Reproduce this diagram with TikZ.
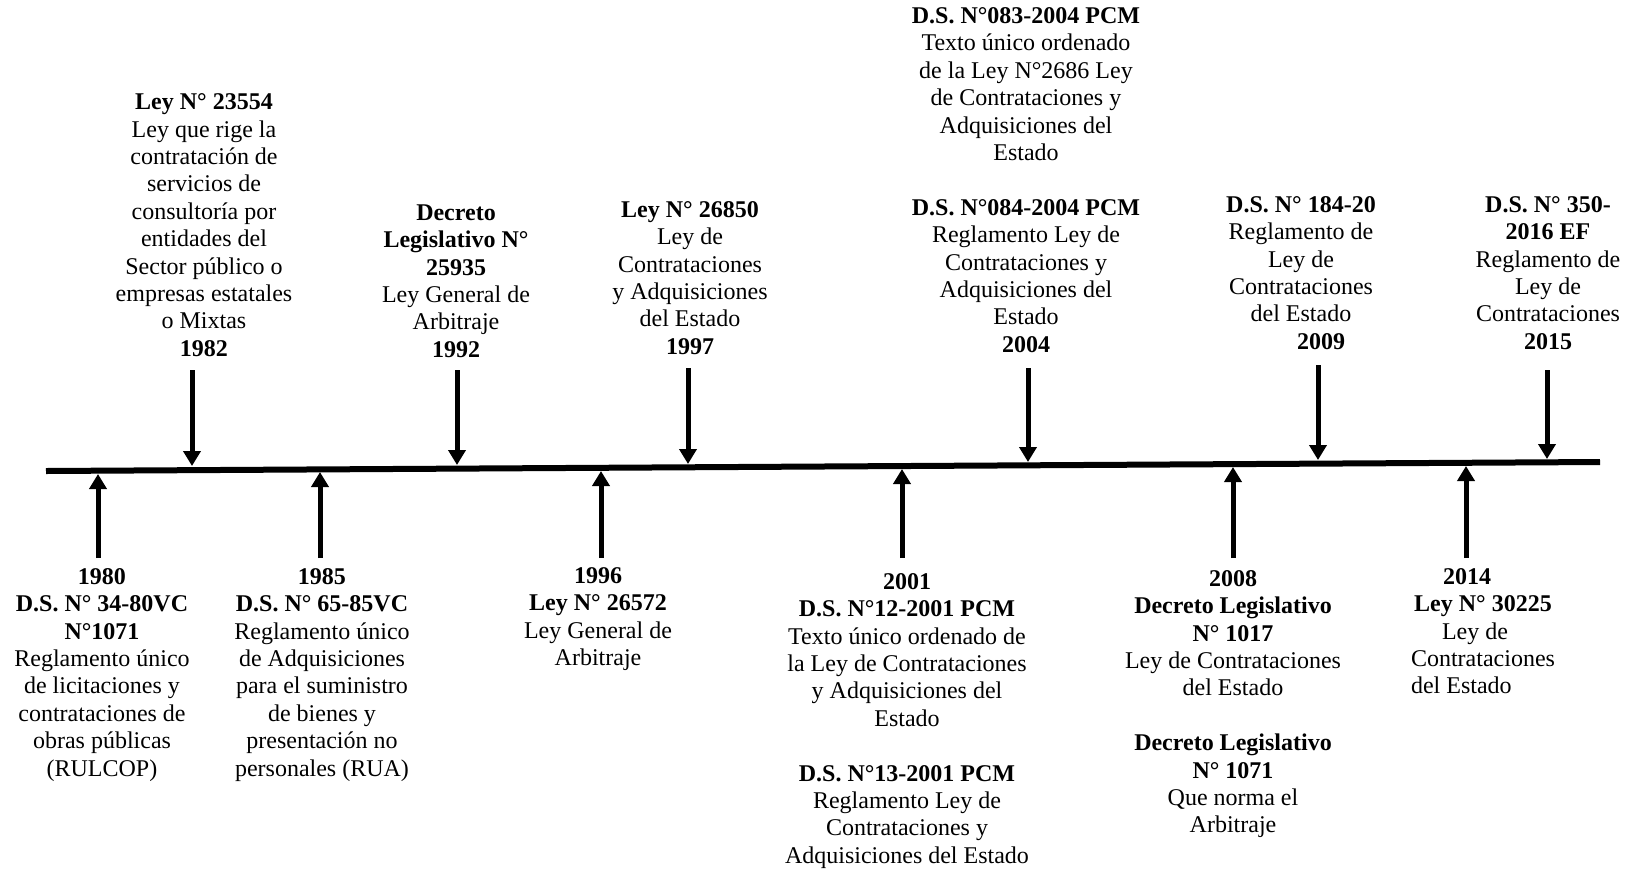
\documentclass[tikz,border=0pt]{standalone}
\usepackage{fontspec}
\setmainfont{Liberation Serif}
\usepackage{tikz}
\usetikzlibrary{arrows.meta}
\tikzset{
  evt/.style={align=center,inner sep=0pt,font=\fontsize{12pt}{13.7pt}\selectfont},
  arr/.style={line width=2.5pt,-{Triangle[width=8.5pt,length=7.5pt]}}
}
\begin{document}
\begin{tikzpicture}[x=0.5pt,y=-0.5pt]
	\useasboundingbox (0,0) rectangle (1630,869);
	% linea de tiempo
	\coordinate (L) at (46,471);
	\coordinate (R) at (1600,462);
	\draw[line width=3pt] (L) -- (R);
	% hitos de arriba
	\node[evt,anchor=south] (top1982) at (204,357) {\textbf{Ley N° 23554}\\ Ley que rige la\\ contratación de\\ servicios de\\ consultoría por\\ entidades del\\ Sector público o\\ empresas estatales\\ o Mixtas\\ \textbf{1982}};
	\node[evt,anchor=south] (top1992) at (456,358) {\textbf{Decreto}\\ \textbf{Legislativo N°}\\ \textbf{25935}\\ Ley General de\\ Arbitraje\\ \textbf{1992}};
	\node[evt,anchor=south] (top1997) at (690,355) {\textbf{Ley N° 26850}\\ Ley de\\ Contrataciones\\ y Adquisiciones\\ del Estado\\ \textbf{1997}};
	\node[evt,anchor=south] (top2004) at (1026,353) {\textbf{D.S. N°083-2004 PCM}\\ Texto único ordenado\\ de la Ley N°2686 Ley\\ de Contrataciones y\\ Adquisiciones del\\ Estado\\[13.7pt] \textbf{D.S. N°084-2004 PCM}\\ Reglamento Ley de\\ Contrataciones y\\ Adquisiciones del\\ Estado\\ \textbf{2004}};
	\node[evt,anchor=south] (top2009) at (1301,350) {\textbf{D.S. N° 184-20}\\ Reglamento de\\ Ley de\\ Contrataciones\\ del Estado\\ \hspace*{20pt}\textbf{2009}};
	\node[evt,anchor=south] (top2015) at (1548,350) {\textbf{D.S. N° 350-}\\ \textbf{2016 EF}\\ Reglamento de\\ Ley de\\ Contrataciones\\ \textbf{2015}};
	% hitos de abajo
	\node[evt,anchor=north] (bot1980) at (102,568) {\textbf{1980}\\ \textbf{D.S. N° 34-80VC}\\ \textbf{N°1071}\\ Reglamento único\\ de licitaciones y\\ contrataciones de\\ obras públicas\\ (RULCOP)};
	\node[evt,anchor=north] (bot1985) at (322,568) {\textbf{1985}\\ \textbf{D.S. N° 65-85VC}\\ Reglamento único\\ de Adquisiciones\\ para el suministro\\ de bienes y\\ presentación no\\ personales (RUA)};
	\node[evt,anchor=north] (bot1996) at (598,567) {\textbf{1996}\\ \textbf{Ley N° 26572}\\ Ley General de\\ Arbitraje};
	\node[evt,anchor=north] (bot2001) at (907,573) {\textbf{2001}\\ \textbf{D.S. N°12-2001 PCM}\\ Texto único ordenado de\\ la Ley de Contrataciones\\ y Adquisiciones del\\ Estado\\[13.7pt] \textbf{D.S. N°13-2001 PCM}\\ Reglamento Ley de\\ Contrataciones y\\ Adquisiciones del Estado};
	\node[evt,anchor=north] (bot2008) at (1233,570) {\textbf{2008}\\ \textbf{Decreto Legislativo}\\ \textbf{N° 1017}\\ Ley de Contrataciones\\ del Estado\\[13.7pt] \textbf{Decreto Legislativo}\\ \textbf{N° 1071}\\ Que norma el\\ Arbitraje};
	\node[evt,anchor=north] (bot2014) at (1483,568) {\textbf{2014}\hspace*{16pt}\null\\ \textbf{Ley N° 30225}\hfill\null\\ Ley de\hspace*{8pt}\null\\ Contrataciones\\ del Estado\hfill\null};
	% flechas hacia la linea
	\coordinate (s1982) at (192,370);  \coordinate (e1982) at (192,466);
	\coordinate (s1992) at (457,370);  \coordinate (e1992) at (457,465);
	\coordinate (s1997) at (688,368);  \coordinate (e1997) at (688,464);
	\coordinate (s2004) at (1028,368); \coordinate (e2004) at (1028,462);
	\coordinate (s2009) at (1318,365); \coordinate (e2009) at (1318,460);
	\coordinate (s2015) at (1547,370); \coordinate (e2015) at (1547,459);
	\coordinate (s1980) at (98,558);   \coordinate (e1980) at (98,474);
	\coordinate (s1985) at (320,558);  \coordinate (e1985) at (320,472);
	\coordinate (s1996) at (601,558);  \coordinate (e1996) at (601,471);
	\coordinate (s2001) at (902,558);  \coordinate (e2001) at (902,469);
	\coordinate (s2008) at (1233,558); \coordinate (e2008) at (1233,467);
	\coordinate (s2014) at (1466,558); \coordinate (e2014) at (1466,466);
	\foreach \y in {1982,1992,1997,2004,2009,2015,1980,1985,1996,2001,2008,2014}
		\draw[arr] (s\y) -- (e\y);
\end{tikzpicture}
\end{document}
